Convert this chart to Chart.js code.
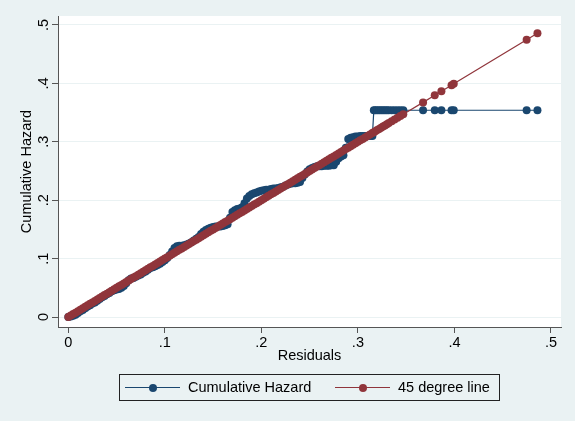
<!DOCTYPE html>
<html>
<head>
<meta charset="utf-8">
<script src="https://cdn.jsdelivr.net/npm/chart.js@4"></script>
<style>
  body { margin: 0; background: #eaf2f3; }
  #wrap { position: relative; width: 575px; height: 421px; background: #eaf2f3; font-family: "Liberation Sans", Arial, sans-serif; }
  #chart { position: absolute; left: 0; top: 0; }
  .box { position: absolute; left: 119px; top: 374px; width: 379px; height: 25px; border: 1px solid #222; }
  .line { position: absolute; height: 1px; width: 55px; top: 387px; }
  .dot { position: absolute; width: 8px; height: 8px; border-radius: 50%; top: 384px; }
  .lbl { position: absolute; top: 378px; font-size: 14.5px; color: #000; line-height: 18px; }
</style>
</head>
<body>
<div id="wrap">
  <canvas id="chart" width="575" height="421"></canvas>
  <div class="box"></div>
  <div class="line" style="left:125px;background:#1a476f"></div>
  <div class="dot" style="left:149px;background:#1a476f"></div>
  <div class="lbl" style="left:188px">Cumulative Hazard</div>
  <div class="line" style="left:335px;background:#90353b"></div>
  <div class="dot" style="left:359px;background:#90353b"></div>
  <div class="lbl" style="left:398px">45 degree line</div>
</div>
<script>
// Cox-Snell residuals and the Nelson-Aalen cumulative hazard
const residuals = [
    0.0000, 0.0025, 0.0050, 0.0075, 0.0100, 0.0125, 0.0150, 0.0175, 0.0200, 0.0225,
    0.0250, 0.0275, 0.0300, 0.0325, 0.0350, 0.0375, 0.0400, 0.0425, 0.0450, 0.0475,
    0.0500, 0.0525, 0.0550, 0.0575, 0.0600, 0.0625, 0.0650, 0.0675, 0.0700, 0.0725,
    0.0750, 0.0775, 0.0800, 0.0825, 0.0850, 0.0875, 0.0900, 0.0925, 0.0950, 0.0975,
    0.1000, 0.1025, 0.1050, 0.1075, 0.1100, 0.1125, 0.1150, 0.1175, 0.1200, 0.1225,
    0.1250, 0.1275, 0.1300, 0.1325, 0.1350, 0.1375, 0.1400, 0.1425, 0.1450, 0.1475,
    0.1500, 0.1525, 0.1550, 0.1575, 0.1600, 0.1625, 0.1650, 0.1675, 0.1700, 0.1725,
    0.1750, 0.1775, 0.1800, 0.1825, 0.1850, 0.1875, 0.1900, 0.1925, 0.1950, 0.1975,
    0.2000, 0.2025, 0.2050, 0.2075, 0.2100, 0.2125, 0.2150, 0.2175, 0.2200, 0.2225,
    0.2250, 0.2275, 0.2300, 0.2325, 0.2350, 0.2375, 0.2400, 0.2425, 0.2450, 0.2475,
    0.2500, 0.2525, 0.2550, 0.2575, 0.2600, 0.2625, 0.2650, 0.2675, 0.2700, 0.2725,
    0.2750, 0.2775, 0.2800, 0.2825, 0.2850, 0.2875, 0.2900, 0.2925, 0.2950, 0.2975,
    0.3000, 0.3025, 0.3050, 0.3075, 0.3100, 0.3125, 0.3150,
    0.3165, 0.3180, 0.3200, 0.3220, 0.3240, 0.3260, 0.3280, 0.3300, 0.3320, 0.3350,
    0.3380, 0.3410, 0.3440, 0.3470, 0.3675, 0.3796, 0.3865, 0.3970, 0.3993, 0.4748,
    0.4860
];
const hazard = [
    0.000, 0.001, 0.002, 0.004, 0.007, 0.010, 0.012, 0.015, 0.018, 0.020,
    0.023, 0.025, 0.028, 0.031, 0.034, 0.036, 0.039, 0.041, 0.044, 0.046,
    0.047, 0.048, 0.050, 0.053, 0.058, 0.063, 0.066, 0.067, 0.069, 0.071,
    0.073, 0.076, 0.078, 0.081, 0.084, 0.085, 0.087, 0.089, 0.091, 0.094,
    0.097, 0.101, 0.106, 0.112, 0.118, 0.121, 0.122, 0.122, 0.123, 0.124,
    0.126, 0.128, 0.131, 0.134, 0.137, 0.142, 0.146, 0.149, 0.151, 0.153,
    0.154, 0.155, 0.155, 0.155, 0.156, 0.157, 0.159, 0.170, 0.180, 0.183,
    0.185, 0.186, 0.188, 0.195, 0.203, 0.207, 0.210, 0.212, 0.213, 0.215,
    0.216, 0.217, 0.218, 0.218, 0.219, 0.220, 0.220, 0.221, 0.222, 0.223,
    0.225, 0.227, 0.228, 0.229, 0.229, 0.230, 0.231, 0.238, 0.244, 0.249,
    0.253, 0.255, 0.257, 0.258, 0.258, 0.258, 0.259, 0.259, 0.259, 0.260,
    0.260, 0.266, 0.272, 0.275, 0.277, 0.290, 0.305, 0.307, 0.308, 0.309,
    0.309, 0.310, 0.310, 0.310, 0.310, 0.310, 0.310,
    0.354, 0.354, 0.354, 0.354, 0.354, 0.354, 0.354, 0.354, 0.354, 0.354,
    0.354, 0.354, 0.354, 0.354, 0.354, 0.354, 0.354, 0.354, 0.354, 0.354,
    0.354
];
const xTickValues = [0, 0.1, 0.2, 0.3, 0.4, 0.5];
const xTickLabels = ["0", ".1", ".2", ".3", ".4", ".5"];
const yTickValues = [0, 0.1, 0.2, 0.3, 0.4, 0.5];
const yTickLabels = ["0", ".1", ".2", ".3", ".4", ".5"];

const navy = "#1a476f";
const maroon = "#90353b";
const axisColor = "#555555";
const font = { family: "'Liberation Sans', Arial, sans-serif", size: 14.5 };

const plotBg = {
    id: "plotBg",
    beforeDraw(chart) {
        const { ctx, chartArea: a } = chart;
        ctx.save();
        ctx.fillStyle = "#ffffff";
        ctx.fillRect(a.left, a.top, a.right - a.left, a.bottom - a.top);
        ctx.restore();
    }
};

new Chart(document.getElementById("chart"), {
    type: "scatter",
    data: {
        datasets: [
            {
                label: "Cumulative Hazard",
                data: residuals.map((r, i) => ({ x: r, y: hazard[i] })),
                showLine: true,
                borderColor: navy,
                backgroundColor: navy,
                borderWidth: 1.2,
                pointRadius: 4,
                pointBorderWidth: 0,
                order: 2
            },
            {
                // the 45 degree line plots each residual against itself
                label: "45 degree line",
                data: residuals.map(r => ({ x: r, y: r })),
                showLine: true,
                borderColor: maroon,
                backgroundColor: maroon,
                borderWidth: 1.2,
                pointRadius: 4,
                pointBorderWidth: 0,
                order: 1
            }
        ]
    },
    options: {
        responsive: false,
        animation: false,
        layout: { padding: { left: 0, top: 16, right: 14, bottom: 56 } },
        plugins: {
            legend: { display: false },
            tooltip: { enabled: false }
        },
        scales: {
            x: {
                type: "linear",
                min: -0.0107,
                max: 0.5104,
                afterBuildTicks: s => { s.ticks = xTickValues.map(v => ({ value: v })); },
                afterFit: s => { s.height = 38; },
                border: { display: true, color: axisColor, width: 1 },
                grid: { drawOnChartArea: false, drawTicks: true, tickLength: 6, tickColor: axisColor },
                ticks: {
                    font: font,
                    color: "#000",
                    padding: 1,
                    maxRotation: 0,
                    callback: (v, i) => xTickLabels[i]
                },
                title: { display: true, text: "Residuals", font: font, color: "#000", padding: 0 }
            },
            y: {
                type: "linear",
                min: -0.0171,
                max: 0.5154,
                afterBuildTicks: s => { s.ticks = yTickValues.map(v => ({ value: v })); },
                afterFit: s => { s.width = 58; },
                border: { display: true, color: axisColor, width: 1 },
                grid: { color: "#eaf2f3", lineWidth: 1, drawTicks: true, tickLength: 6, tickColor: axisColor },
                ticks: {
                    font: font,
                    color: "#000",
                    padding: 2,
                    minRotation: 90,
                    maxRotation: 90,
                    crossAlign: "center",
                    callback: (v, i) => yTickLabels[i]
                },
                title: { display: true, text: "Cumulative Hazard", font: font, color: "#000", padding: { top: 18, bottom: 0 } }
            }
        }
    },
    plugins: [plotBg]
});
</script>
</body>
</html>
